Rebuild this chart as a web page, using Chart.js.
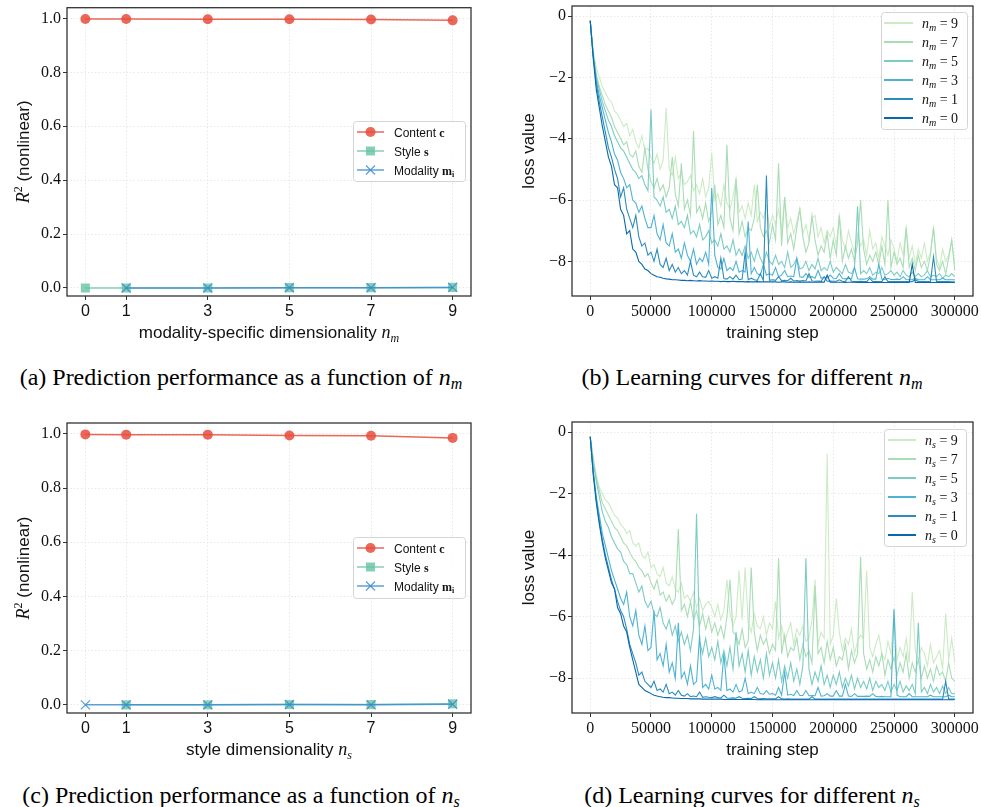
<!DOCTYPE html>
<html>
<head>
<meta charset="utf-8">
<script src="https://cdn.jsdelivr.net/npm/chart.js@4"></script>
<style>
body { margin:0; background:#fff; width:981px; height:807px; position:relative; overflow:hidden; }
canvas { position:absolute; }
.cap { position:absolute; font-family:'Liberation Serif', serif; font-size:24px; color:#000; text-align:center; line-height:28px; white-space:nowrap; }
.cap sub { font-size:16px; font-style:italic; vertical-align:-4px; line-height:0; }
</style>
</head>
<body>
<canvas id="cA" width="490" height="350" style="left:0;top:0"></canvas>
<canvas id="cB" width="491" height="350" style="left:490px;top:0"></canvas>
<canvas id="cC" width="490" height="350" style="left:0;top:415px"></canvas>
<canvas id="cD" width="491" height="350" style="left:490px;top:415px"></canvas>
<div class="cap" style="left:0;top:363px;width:482px">(a) Prediction performance as a function of <i>n</i><sub>m</sub></div>
<div class="cap" style="left:522px;top:363px;width:460px">(b) Learning curves for different <i>n</i><sub>m</sub></div>
<div class="cap" style="left:0;top:781px;width:482px">(c) Prediction performance as a function of <i>n</i><sub>s</sub></div>
<div class="cap" style="left:522px;top:781px;width:460px">(d) Learning curves for different <i>n</i><sub>s</sub></div>
<script>
// dimensionality values (x axis of a / c)
const dims = [0, 1, 3, 5, 7, 9];
const rTicks = [0, 0.2, 0.4, 0.6, 0.8, 1.0];

// (a) varying n_m
const contentA  = [0.998, 0.998, 0.997, 0.997, 0.996, 0.993];
const styleA    = [0.0, 0.0, 0.0, 0.001, 0.001, 0.002];
const modalityA = [null, 0.0, 0.0, 0.001, 0.001, 0.002];

// (c) varying n_s
const contentC  = [0.998, 0.997, 0.997, 0.994, 0.993, 0.985];
const styleC    = [null, 0.0, 0.0, 0.001, 0.001, 0.004];
const modalityC = [0.0, 0.0, 0.0, 0.001, 0.0, 0.002];

// training steps for the learning curves (one row = 25000 steps)
const steps = [
  0, 2500, 5000, 7500, 10000, 12500, 15000, 17500, 20000, 22500,
  25000, 27500, 30000, 32500, 35000, 37500, 40000, 42500, 45000, 47500,
  50000, 52500, 55000, 57500, 60000, 62500, 65000, 67500, 70000, 72500,
  75000, 77500, 80000, 82500, 85000, 87500, 90000, 92500, 95000, 97500,
  100000, 102500, 105000, 107500, 110000, 112500, 115000, 117500, 120000, 122500,
  125000, 127500, 130000, 132500, 135000, 137500, 140000, 142500, 145000, 147500,
  150000, 152500, 155000, 157500, 160000, 162500, 165000, 167500, 170000, 172500,
  175000, 177500, 180000, 182500, 185000, 187500, 190000, 192500, 195000, 197500,
  200000, 202500, 205000, 207500, 210000, 212500, 215000, 217500, 220000, 222500,
  225000, 227500, 230000, 232500, 235000, 237500, 240000, 242500, 245000, 247500,
  250000, 252500, 255000, 257500, 260000, 262500, 265000, 267500, 270000, 272500,
  275000, 277500, 280000, 282500, 285000, 287500, 290000, 292500, 295000, 297500,
  300000
];
const stepTicks = [0, 50000, 100000, 150000, 200000, 250000, 300000];
const lossTicks = [0, -2, -4, -6, -8];

// (b) loss for n_m = 0,1,3,5,7,9
const lossM0 = [
  -0.15, -1.4, -2.4, -3.0, -3.6, -4.1, -4.6, -4.9, -5.5, -5.6,
  -6.3, -6.5, -7.1, -7.0, -7.6, -7.7, -8.0, -8.1, -8.25, -8.3,
  -8.4, -8.45, -8.5, -8.52, -8.55, -8.57, -8.58, -8.6, -8.6, -8.61,
  -8.62, -8.62, -8.63, -8.62, -8.63, -8.64, -8.63, -8.64, -8.64, -8.65,
  -8.64, -8.65, -8.65, -8.66, -8.65, -8.66, -8.66, -8.65, -8.66, -8.66,
  -8.66, -8.67, -8.66, -8.67, -8.67, -8.66, -8.67, -8.67, -8.67, -8.67,
  -8.67, -8.67, -8.68, -8.67, -8.67, -8.68, -8.67, -8.68, -8.68, -8.67,
  -8.68, -8.68, -8.67, -8.68, -8.68, -8.68, -8.67, -8.68, -8.45, -8.68,
  -8.68, -8.68, -8.68, -8.68, -8.69, -8.68, -8.68, -8.68, -8.69, -8.68,
  -8.69, -8.68, -8.69, -8.69, -8.68, -8.69, -8.69, -8.69, -8.69, -8.69,
  -8.69, -8.69, -8.69, -8.69, -8.69, -8.69, -8.1, -8.69, -8.69, -8.69,
  -8.69, -8.69, -8.69, -8.69, -8.69, -8.69, -8.69, -8.69, -8.69, -8.69,
  -8.69
];
const lossM1 = [
  -0.15, -1.3, -2.2, -2.8, -3.3, -3.8, -4.3, -4.6, -5.0, -5.3,
  -5.9, -5.6, -6.3, -6.6, -6.9, -6.5, -7.2, -7.5, -7.4, -7.8,
  -7.7, -8.0, -7.6, -8.1, -8.2, -7.9, -8.3, -8.1, -8.35, -8.2,
  -8.4, -8.3, -8.45, -8.0, -8.45, -8.5, -8.35, -8.5, -8.52, -8.3,
  -8.55, -8.5, -8.55, -7.9, -8.56, -8.58, -8.5, -8.58, -8.45, -8.6,
  -8.58, -7.7, -8.6, -8.55, -8.6, -8.62, -8.4, -8.62, -5.2, -8.62,
  -8.6, -8.62, -8.5, -8.63, -8.62, -8.63, -8.55, -8.64, -8.63, -8.64,
  -8.63, -8.64, -8.4, -8.64, -8.65, -8.64, -8.65, -8.5, -8.65, -8.64,
  -8.65, -8.65, -8.6, -8.65, -8.66, -8.5, -8.65, -8.66, -8.66, -8.65,
  -8.66, -8.66, -8.55, -8.66, -8.66, -8.66, -8.66, -8.5, -8.66, -8.66,
  -8.66, -8.66, -8.66, -8.66, -8.66, -8.66, -8.66, -8.6, -8.66, -8.66,
  -8.66, -8.66, -8.66, -7.85, -8.66, -8.66, -8.66, -8.66, -8.66, -8.67,
  -8.67
];
const lossM3 = [
  -0.15, -1.3, -2.1, -2.6, -3.0, -3.4, -3.8, -4.1, -4.5, -4.7,
  -5.1, -5.3, -5.6, -5.5, -6.0, -6.1, -6.4, -6.2, -6.6, -6.9,
  -6.9, -6.5, -7.1, -7.3, -6.8, -7.4, -7.5, -7.1, -7.7, -7.6,
  -7.9, -7.4, -7.8, -8.0, -7.6, -8.1, -7.9, -8.0, -7.7, -8.1,
  -5.6, -7.8, -8.2, -8.25, -7.9, -8.3, -8.2, -8.3, -8.0, -8.35,
  -8.3, -8.35, -6.7, -8.4, -8.2, -8.4, -8.45, -8.1, -8.45, -8.4,
  -8.45, -8.2, -8.5, -8.45, -8.3, -8.5, -8.48, -8.5, -7.9, -8.5,
  -8.52, -8.4, -8.52, -8.5, -8.55, -8.3, -8.55, -8.52, -8.55, -8.45,
  -8.55, -8.56, -8.4, -8.56, -8.57, -8.55, -8.57, -8.2, -8.57, -8.58,
  -8.58, -8.57, -8.5, -8.58, -8.58, -8.1, -8.58, -8.59, -8.55, -8.59,
  -8.59, -8.58, -8.59, -8.5, -8.59, -8.6, -8.6, -8.55, -8.6, -8.6,
  -8.6, -8.5, -8.6, -8.6, -8.6, -8.6, -8.55, -8.6, -8.6, -8.6,
  -8.6
];
const lossM5 = [
  -0.15, -1.3, -2.0, -2.4, -2.8, -3.1, -3.4, -3.6, -3.9, -4.1,
  -4.3, -4.4, -4.6, -4.8, -5.0, -5.1, -5.3, -5.2, -5.5, -5.7,
  -3.05, -5.9, -6.0, -6.2, -5.9, -6.4, -6.3, -6.6, -6.2, -6.8,
  -6.7, -6.9, -6.5, -7.1, -7.0, -7.2, -6.8, -7.3, -7.2, -7.0,
  -7.4, -7.3, -7.5, -7.1, -7.6, -7.5, -7.7, -7.3, -7.8, -7.6,
  -7.8, -7.5, -7.9, -7.7, -8.0, -7.6, -7.9, -8.1, -7.7, -8.0,
  -8.1, -7.8, -8.1, -8.0, -8.2, -7.7, -8.2, -8.1, -7.9, -8.25,
  -8.2, -8.0, -8.3, -8.1, -8.25, -7.9, -8.3, -8.2, -8.3, -8.0,
  -8.35, -8.2, -8.3, -8.4, -8.1, -8.35, -8.4, -8.2, -6.2, -8.4,
  -8.3, -8.4, -8.2, -8.45, -8.35, -8.4, -8.2, -8.45, -8.4, -8.3,
  -8.45, -8.35, -8.5, -8.3, -8.45, -8.5, -8.35, -8.5, -8.4, -8.5,
  -8.45, -8.3, -8.5, -8.45, -8.5, -8.4, -8.55, -8.45, -8.5, -8.4,
  -8.5
];
const lossM7 = [
  -0.15, -1.2, -1.9, -2.3, -2.6, -2.9, -3.1, -3.3, -3.6, -3.8,
  -4.0, -4.2, -4.1, -4.5, -4.6, -4.4, -4.9, -5.1, -4.3, -5.0,
  -5.4, -5.6, -5.3, -5.7, -5.5, -5.9, -5.6, -4.6, -5.8, -6.2,
  -4.8, -6.3, -6.0, -6.5, -3.75, -6.4, -6.2, -6.6, -6.1, -6.7,
  -6.4, -5.5, -6.8, -6.5, -6.9, -4.2, -6.6, -7.0, -5.3, -7.1,
  -6.7, -7.2, -6.9, -7.0, -6.6, -5.5, -6.9, -7.2, -7.0, -7.4,
  -6.8, -7.3, -4.8, -7.5, -5.9, -7.4, -7.1, -7.6, -6.9, -6.3,
  -7.2, -7.7, -7.4, -6.5, -7.3, -7.8, -7.5, -7.7, -7.1, -7.9,
  -7.3, -7.8, -6.5, -8.0, -7.5, -7.9, -7.6, -8.0, -7.4, -6.0,
  -7.6, -8.1, -7.8, -8.0, -7.7, -8.1, -7.5, -8.1, -6.0, -8.2,
  -7.7, -8.1, -7.9, -8.2, -6.9, -8.2, -7.9, -8.3, -7.8, -8.2,
  -8.0, -8.3, -7.8, -6.9, -8.1, -8.3, -8.0, -8.4, -7.9, -7.3,
  -8.3
];
const lossM9 = [
  -0.15, -1.1, -1.7, -2.0, -2.3, -2.5, -2.7, -2.8, -3.1, -3.2,
  -3.4, -3.6, -3.5, -3.9, -3.7, -4.1, -4.3, -3.9, -4.4, -4.3,
  -4.6, -4.8, -4.5, -5.0, -4.7, -3.0, -5.0, -5.2, -4.6, -5.3,
  -5.1, -5.5, -5.4, -5.2, -5.7, -5.5, -5.8, -5.3, -5.9, -5.6,
  -4.45, -6.0, -5.8, -6.2, -5.5, -6.1, -6.3, -5.9, -5.3, -6.4,
  -6.2, -6.6, -6.1, -6.5, -5.5, -6.7, -6.4, -6.6, -6.2, -6.9,
  -6.5, -6.8, -6.3, -7.0, -5.9, -6.9, -6.6, -7.1, -6.7, -6.3,
  -7.1, -6.8, -7.3, -6.6, -6.5, -7.2, -6.9, -7.4, -7.0, -7.2,
  -6.9, -7.5, -6.5, -7.3, -7.6, -7.0, -7.4, -7.7, -7.1, -7.5,
  -7.3, -7.8, -7.0, -7.6, -7.4, -7.9, -7.2, -7.5, -7.8, -7.3,
  -7.6, -8.0, -7.4, -7.8, -6.9, -7.9, -7.5, -8.1, -7.6, -7.9,
  -7.4, -8.0, -7.7, -6.9, -7.9, -8.2, -7.6, -8.0, -7.8, -7.3,
  -8.1
];

// (d) loss for n_s = 0,1,3,5,7,9
const lossS0 = [
  -0.15, -1.4, -2.3, -3.0, -3.6, -4.1, -4.5, -4.9, -5.1, -5.7,
  -5.9, -6.3, -6.5, -7.0, -7.4, -7.8, -8.2, -8.3, -8.4, -8.45,
  -8.5, -8.55, -8.58, -8.6, -8.62, -8.63, -8.63, -8.64, -8.65, -8.65,
  -8.66, -8.66, -8.66, -8.67, -8.67, -8.67, -8.67, -8.68, -8.68, -8.68,
  -8.68, -8.68, -8.68, -8.68, -8.69, -8.69, -8.69, -8.69, -8.69, -8.69,
  -8.69, -8.69, -8.69, -8.69, -8.69, -8.7, -8.69, -8.7, -8.7, -8.7,
  -8.7, -8.7, -8.7, -8.7, -8.7, -8.7, -8.7, -8.7, -8.7, -8.7,
  -8.7, -8.7, -8.7, -8.7, -8.7, -8.7, -8.7, -8.7, -8.7, -8.7,
  -8.7, -8.7, -8.7, -8.7, -8.7, -8.7, -8.7, -8.7, -8.7, -8.7,
  -8.7, -8.7, -8.7, -8.7, -8.7, -8.7, -8.7, -8.7, -8.7, -8.7,
  -8.7, -8.7, -8.7, -8.7, -8.7, -8.7, -8.7, -8.7, -8.7, -8.7,
  -8.7, -8.7, -8.7, -8.7, -8.7, -8.7, -8.7, -8.7, -8.7, -8.7,
  -8.7
];
const lossS1 = [
  -0.15, -1.3, -2.2, -2.9, -3.5, -4.0, -4.4, -4.8, -5.1, -5.5,
  -5.8, -6.0, -6.4, -6.9, -7.2, -7.5, -7.9, -7.8, -8.1, -8.2,
  -8.3, -8.1, -8.4, -8.35, -8.45, -8.2, -8.5, -8.45, -8.55, -8.4,
  -8.55, -8.58, -8.5, -8.6, -8.58, -8.6, -8.45, -8.62, -8.6, -8.62,
  -8.63, -8.6, -8.63, -8.64, -8.55, -8.64, -8.65, -8.64, -8.65, -8.6,
  -8.65, -8.66, -8.65, -8.66, -8.6, -8.66, -8.67, -8.66, -8.67, -8.67,
  -8.67, -8.67, -8.6, -8.67, -8.68, -8.67, -8.68, -8.68, -8.68, -8.68,
  -8.68, -8.68, -8.68, -8.6, -8.68, -8.68, -8.68, -8.68, -8.68, -8.68,
  -8.68, -8.68, -8.68, -8.68, -8.68, -8.68, -8.68, -8.68, -8.68, -8.68,
  -8.68, -8.68, -8.68, -8.68, -8.68, -8.68, -8.68, -8.68, -8.68, -8.68,
  -8.68, -8.68, -8.68, -8.68, -8.68, -8.68, -8.68, -8.68, -8.68, -8.68,
  -8.68, -8.68, -8.68, -8.68, -8.68, -8.68, -8.68, -8.1, -8.68, -8.68,
  -8.68
];
const lossS3 = [
  -0.15, -1.3, -2.1, -2.7, -3.3, -3.7, -4.1, -4.5, -4.8, -5.1,
  -5.4, -5.6, -5.2, -6.0, -6.3, -5.8, -6.6, -6.9, -6.3, -7.1,
  -7.0, -5.8, -7.4, -7.2, -7.6, -6.9, -7.8, -7.5, -8.0, -6.2,
  -8.0, -7.8, -8.2, -7.6, -8.2, -8.1, -6.6, -8.3, -8.2, -8.35,
  -7.9, -8.35, -8.3, -8.4, -7.2, -8.4, -8.35, -8.45, -8.2, -8.45,
  -8.4, -8.0, -8.5, -8.45, -8.5, -8.3, -8.5, -8.52, -8.4, -8.52,
  -8.5, -8.55, -8.3, -8.55, -7.8, -8.55, -8.52, -8.56, -8.4, -8.56,
  -8.56, -8.4, -8.57, -8.56, -8.57, -8.3, -8.58, -8.57, -8.5, -8.58,
  -8.58, -8.4, -8.58, -8.58, -8.2, -8.58, -8.59, -8.5, -8.59, -8.59,
  -8.59, -8.58, -8.59, -8.5, -8.59, -8.6, -8.59, -8.6, -8.6, -8.6,
  -5.75, -8.55, -8.6, -8.6, -8.6, -8.5, -8.6, -8.6, -8.6, -8.6,
  -8.6, -8.6, -8.55, -8.6, -8.6, -8.6, -8.6, -8.6, -8.55, -8.6,
  -8.6
];
const lossS5 = [
  -0.15, -1.0, -1.6, -2.1, -2.6, -2.9, -3.1, -3.4, -3.6, -3.8,
  -3.9, -4.2, -4.3, -4.6, -4.6, -4.9, -5.2, -5.0, -5.5, -5.7,
  -5.5, -5.9, -6.0, -5.7, -6.2, -6.4, -6.1, -6.6, -6.3, -6.8,
  -6.5, -6.9, -6.6, -7.1, -6.4, -2.65, -6.8, -7.2, -6.7, -7.3,
  -7.0, -7.4, -6.8, -7.5, -7.1, -7.6, -7.0, -7.7, -6.5, -7.6,
  -7.2, -7.8, -7.1, -7.9, -7.3, -7.8, -7.4, -8.0, -7.2, -7.9,
  -7.5, -8.0, -7.4, -8.1, -7.6, -8.0, -7.5, -8.1, -7.7, -8.2,
  -7.6, -4.1, -7.7, -8.2, -7.8, -8.1, -7.6, -8.2, -7.9, -8.3,
  -7.9, -8.2, -7.8, -8.3, -8.0, -8.25, -7.9, -8.35, -8.0, -8.3,
  -8.1, -8.35, -8.0, -8.4, -8.1, -8.3, -8.2, -8.4, -8.1, -8.45,
  -8.2, -8.4, -8.1, -8.45, -8.25, -8.4, -8.2, -8.5, -6.2, -8.45,
  -8.3, -8.5, -8.2, -8.45, -8.3, -8.5, -8.25, -8.5, -8.3, -8.5,
  -8.5
];
const lossS7 = [
  -0.15, -0.9, -1.5, -1.9, -2.3, -2.5, -2.7, -2.9, -3.1, -3.2,
  -3.4, -3.6, -3.7, -3.9, -4.1, -4.2, -4.4, -4.5, -4.7, -4.6,
  -4.9, -5.1, -4.8, -5.3, -5.2, -5.5, -5.3, -5.6, -5.4, -3.15,
  -5.8, -5.6, -6.0, -5.5, -6.1, -5.8, -6.3, -5.9, -6.4, -6.0,
  -6.5, -6.2, -6.6, -6.3, -6.7, -6.0, -4.8, -6.5, -6.6, -6.9,
  -6.4, -7.0, -6.8, -4.4, -6.5, -7.1, -6.6, -6.9, -6.7, -7.2,
  -6.9, -7.1, -4.1, -7.2, -6.6, -7.3, -7.0, -7.1, -6.7, -7.4,
  -6.9, -7.3, -7.1, -7.5, -5.0, -7.2, -7.0, -7.5, -6.8, -7.4,
  -7.0, -7.6, -7.3, -7.4, -6.9, -7.7, -7.1, -7.5, -7.2, -4.05,
  -7.2, -7.7, -7.4, -7.8, -7.3, -7.6, -7.2, -7.9, -7.4, -7.7,
  -7.3, -7.9, -7.5, -7.8, -7.2, -8.0, -7.5, -7.8, -7.4, -8.0,
  -7.6, -8.0, -7.7, -8.1, -7.6, -7.9, -7.8, -8.1, -7.5, -8.0,
  -8.1
];
const lossS9 = [
  -0.15, -0.8, -1.4, -1.8, -2.0, -2.2, -2.3, -2.5, -2.7, -2.8,
  -3.0, -3.1, -3.3, -3.2, -3.6, -3.7, -3.6, -4.0, -4.1, -3.9,
  -4.4, -4.3, -4.6, -4.7, -4.4, -4.9, -5.0, -4.7, -5.1, -5.2,
  -4.9, -5.4, -5.3, -5.5, -5.2, -5.7, -5.4, -5.8, -5.6, -5.5,
  -5.7, -6.0, -5.6, -6.1, -5.8, -4.8, -5.9, -6.3, -6.0, -4.5,
  -6.1, -4.4, -6.2, -6.5, -5.9, -6.3, -6.4, -6.0, -6.6, -6.2,
  -6.4, -5.5, -6.7, -6.3, -6.8, -6.5, -6.2, -6.9, -6.4, -6.6,
  -6.3, -6.8, -6.7, -6.1, -4.8, -6.9, -6.5, -6.7, -0.7, -6.9,
  -6.6, -5.4, -6.5, -7.1, -6.7, -6.9, -6.4, -7.2, -6.8, -6.6,
  -6.7, -4.5, -7.0, -7.3, -6.9, -6.6, -7.2, -7.4, -6.8, -7.2,
  -5.8, -7.4, -7.0, -7.3, -6.7, -7.5, -5.2, -7.1, -7.4, -7.0,
  -7.2, -7.6, -6.9, -7.5, -7.3, -7.1, -7.7, -5.9, -7.4, -6.7,
  -7.5
];

const SANS = 'Liberation Sans';
const SERIF = 'Liberation Serif';
const gnbu = ['#0868ac', '#2b8cbe', '#4eb3d3', '#7bccc4', '#a8ddb5', '#ccebc5'];
const cRed = 'rgba(231,76,60,0.85)';
const cGreen = 'rgba(102,194,165,0.8)';
const cBlue = 'rgba(52,138,208,0.8)';

// draws a line of text made of several font runs (for the math bits)
function drawRich(ctx, parts, x, y, align) {
  let w = 0;
  parts.forEach(p => { ctx.font = p.f; w += ctx.measureText(p.t).width; });
  let cx = align === 'left' ? x : x - w / 2;
  ctx.textAlign = 'left';
  ctx.textBaseline = 'alphabetic';
  ctx.fillStyle = '#111';
  parts.forEach(p => {
    ctx.font = p.f;
    ctx.fillText(p.t, cx, y + (p.dy || 0));
    cx += ctx.measureText(p.t).width;
  });
}

function drawMarker(ctx, kind, x, y, color) {
  ctx.fillStyle = color; ctx.strokeStyle = color;
  if (kind === 'circle') {
    ctx.beginPath(); ctx.arc(x, y, 5, 0, Math.PI * 2); ctx.fill();
  } else if (kind === 'rect') {
    ctx.fillRect(x - 4.5, y - 4.5, 9, 9);
  } else if (kind === 'cross') {
    ctx.lineWidth = 1.3; ctx.beginPath();
    ctx.moveTo(x - 4.5, y - 4.5); ctx.lineTo(x + 4.5, y + 4.5);
    ctx.moveTo(x + 4.5, y - 4.5); ctx.lineTo(x - 4.5, y + 4.5); ctx.stroke();
  }
}

const decorConf = {};

// frame, axis titles and legend, drawn over the chart
const decor = {
  id: 'decor',
  afterDraw(chart) {
    const c = decorConf[chart.canvas.id];
    if (!c) return;
    const ctx = chart.ctx, a = chart.chartArea;
    ctx.save();
    ctx.strokeStyle = '#333'; ctx.lineWidth = 1.3;
    ctx.strokeRect(a.left, a.top, a.right - a.left, a.bottom - a.top);
    drawRich(ctx, c.xTitle, (a.left + a.right) / 2, a.bottom + 42);
    ctx.save();
    ctx.translate(c.yTitleX, (a.top + a.bottom) / 2);
    ctx.rotate(-Math.PI / 2);
    drawRich(ctx, c.yTitle, 0, 6);
    ctx.restore();
    const L = c.legend;
    ctx.fillStyle = 'rgba(255,255,255,0.85)';
    ctx.strokeStyle = '#d4d4d4'; ctx.lineWidth = 1;
    ctx.beginPath();
    ctx.roundRect(L.x1 + 0.5, L.y1 + 0.5, L.x2 - L.x1, L.y2 - L.y1, 3);
    ctx.fill(); ctx.stroke();
    L.items.forEach((it, k) => {
      const y = L.row0 + k * L.gap;
      ctx.strokeStyle = it.color; ctx.lineWidth = it.lw;
      ctx.beginPath(); ctx.moveTo(L.lx1, y); ctx.lineTo(L.lx2, y); ctx.stroke();
      if (it.marker) drawMarker(ctx, it.marker, (L.lx1 + L.lx2) / 2, y, it.color);
      drawRich(ctx, it.label, L.tx, y + 4.5, 'left');
    });
    ctx.restore();
  }
};

function sizeFix(px) {
  return function (scale) {
    if (scale.isHorizontal()) scale.height = px; else scale.width = px;
    scale.paddingLeft = 0; scale.paddingRight = 0; scale.paddingTop = 0; scale.paddingBottom = 0;
  };
}
function setTicks(list) {
  return function (scale) { scale.ticks = list.map(v => ({ value: v })); };
}

function axisOpts(min, max, list, fmt, font, size) {
  return {
    type: 'linear', min: min, max: max,
    afterBuildTicks: setTicks(list),
    afterFit: sizeFix(size),
    ticks: { callback: fmt, font: font, color: '#111', padding: 2, maxRotation: 0, autoSkip: false },
    grid: { color: '#e2e2e2', lineWidth: 0.8, tickLength: 4, tickColor: '#333', tickWidth: 1 },
    border: { display: false, dash: [1.5, 2] }
  };
}

const tickSerif = { family: SERIF, size: 16 };
const tickSans = { family: SANS, size: 16 };
const fmtR = v => v.toFixed(1);
const fmtDim = v => String(v);
const fmtLoss = v => v === 0 ? '0' : '\u2212' + Math.abs(v);
const fmtStep = v => String(v);

function rChart(id, content, style, modality, top, xh, titleName, sub, leg) {
  decorConf[id] = {
    xTitle: [{ t: titleName + ' ', f: '17px ' + SANS }, { t: 'n', f: 'italic 18px ' + SERIF }, { t: sub, f: 'italic 12px ' + SERIF, dy: 4 }],
    yTitle: [{ t: 'R', f: 'italic 18px ' + SERIF }, { t: '2', f: '12px ' + SERIF, dy: -7 }, { t: ' (nonlinear)', f: '17px ' + SANS }],
    yTitleX: 23,
    legend: Object.assign(leg, {
      items: [
        { color: cRed, lw: 1.5, marker: 'circle', label: [{ t: 'Content ', f: '12px ' + SANS }, { t: 'c', f: 'bold 12px ' + SERIF }] },
        { color: cGreen, lw: 1.5, marker: 'rect', label: [{ t: 'Style ', f: '12px ' + SANS }, { t: 's', f: 'bold 12px ' + SERIF }] },
        { color: cBlue, lw: 1.5, marker: 'cross', label: [{ t: 'Modality ', f: '12px ' + SANS }, { t: 'm', f: 'bold 12px ' + SERIF }, { t: 'i', f: 'bold 8px ' + SERIF, dy: 2 }] }
      ]
    })
  };
  const pts = arr => dims.map((x, i) => ({ x: x, y: arr[i] }));
  new Chart(document.getElementById(id), {
    type: 'line',
    data: {
      datasets: [
        { data: pts(content), borderColor: cRed, backgroundColor: cRed, borderWidth: 1.5, pointStyle: 'circle', pointRadius: 5, pointBorderWidth: 0, order: 0 },
        { data: pts(modality), borderColor: cBlue, backgroundColor: cBlue, borderWidth: 1.5, pointStyle: 'crossRot', pointRadius: 6.4, pointBorderWidth: 1.3, pointBorderColor: cBlue, order: 1 },
        { data: pts(style), borderColor: cGreen, backgroundColor: cGreen, borderWidth: 1.5, pointStyle: 'rect', pointRadius: 6.4, pointBorderWidth: 0, order: 2 }
      ]
    },
    options: {
      responsive: false, animation: false, devicePixelRatio: 1,
      layout: { padding: { left: 0, top: top, right: 19, bottom: 0 } },
      plugins: { legend: { display: false }, tooltip: { enabled: false } },
      scales: {
        x: axisOpts(-0.45, 9.45, dims, fmtDim, tickSans, xh),
        y: axisOpts(-0.03, 1.04, rTicks, fmtR, tickSerif, 67)
      }
    },
    plugins: [decor]
  });
}

function lossChart(id, series, top, xh, sub, legend) {
  const labelFor = n => [{ t: 'n', f: 'italic 14px ' + SERIF }, { t: sub, f: 'italic 10px ' + SERIF, dy: 3 }, { t: ' = ' + n, f: '14px ' + SERIF }];
  legend.items = ['9', '7', '5', '3', '1', '0'].map((n, k) => ({ color: gnbu[5 - k], lw: 2, label: labelFor(n) }));
  decorConf[id] = {
    xTitle: [{ t: 'training step', f: '17px ' + SANS }],
    yTitle: [{ t: 'loss value', f: '17px ' + SANS }],
    yTitleX: 38,
    legend: legend
  };
  new Chart(document.getElementById(id), {
    type: 'line',
    data: {
      datasets: series.map((s, k) => ({
        data: steps.map((x, i) => ({ x: x, y: s[i] })),
        borderColor: gnbu[k], borderWidth: 1.1, pointRadius: 0, tension: 0
      }))
    },
    options: {
      responsive: false, animation: false, devicePixelRatio: 1,
      layout: { padding: { left: 0, top: top, right: 8, bottom: 0 } },
      plugins: { legend: { display: false }, tooltip: { enabled: false } },
      scales: {
        x: axisOpts(-15000, 315000, stepTicks, fmtStep, tickSerif, xh),
        y: axisOpts(-9.13, 0.33, lossTicks, fmtLoss, tickSerif, 82)
      }
    },
    plugins: [decor]
  });
}

rChart('cA', contentA, styleA, modalityA, 6, 54, 'modality-specific dimensionality', 'm',
  { x1: 353, x2: 465, y1: 121, y2: 181, row0: 132, gap: 19, lx1: 357, lx2: 384, tx: 394 });
rChart('cC', contentC, styleC, modalityC, 8, 52, 'style dimensionality', 's',
  { x1: 353, x2: 465, y1: 122, y2: 183, row0: 133, gap: 19, lx1: 357, lx2: 384, tx: 394 });
lossChart('cB', [lossM0, lossM1, lossM3, lossM5, lossM7, lossM9], 6, 54, 'm',
  { x1: 391, x2: 477, y1: 12, y2: 129, row0: 23, gap: 19, lx1: 394, lx2: 423, tx: 432 });
lossChart('cD', [lossS0, lossS1, lossS3, lossS5, lossS7, lossS9], 7, 52, 's',
  { x1: 394, x2: 476, y1: 14, y2: 131, row0: 25, gap: 19, lx1: 398, lx2: 426, tx: 435 });
</script>
</body>
</html>
